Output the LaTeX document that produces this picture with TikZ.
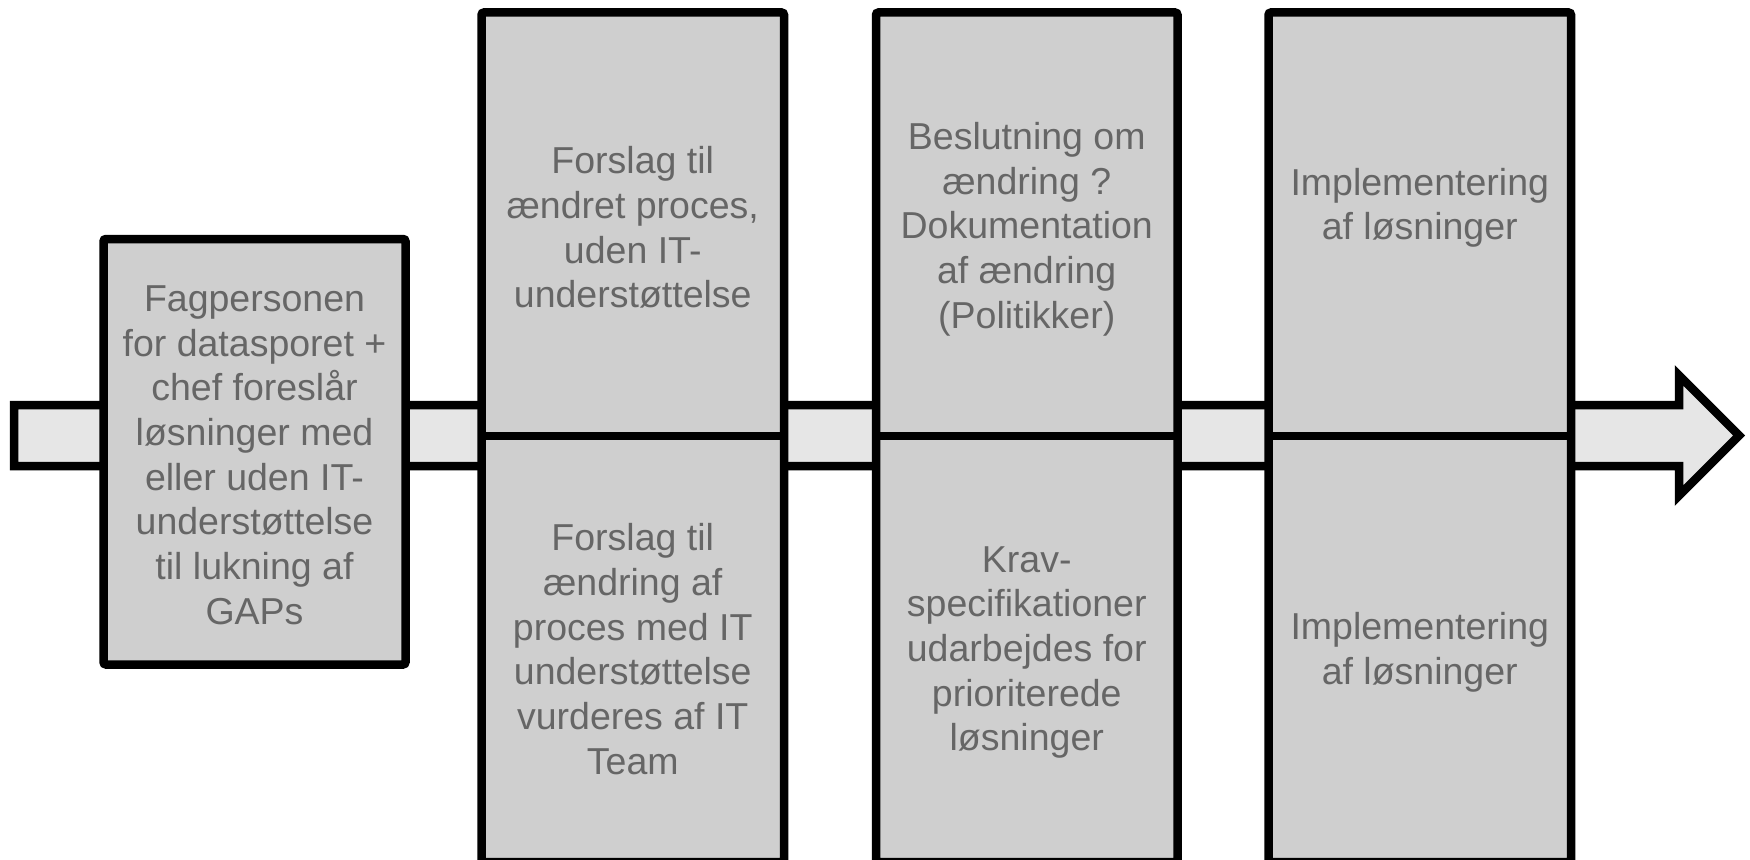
\documentclass[tikz,border=0pt]{standalone}
\usepackage{fontspec}
\setmainfont{Liberation Sans}
\definecolor{boxfill}{RGB}{207,207,207}
\definecolor{arrowfill}{RGB}{230,230,230}
\definecolor{txtgray}{RGB}{102,102,102}
\tikzset{
  cell/.style={draw=black, fill=boxfill, line width=8.5pt, rounded corners=2.5pt},
  divider/.style={draw=black, line width=8pt},
  flow/.style={draw=black, fill=arrowfill, line width=8.5pt, line join=miter, miter limit=20},
  txtbox/.style={text=txtgray, align=center, inner sep=0pt, font=\fontsize{37.5}{44.7}\selectfont}
}
\begin{document}
\begin{tikzpicture}[x=1pt,y=-1pt]
\useasboundingbox (0,0) rectangle (1750,859);
\fill[white] (0,0) rectangle (1750,859);
% big arrow
\draw[flow] (14,405) -- (1679,405) -- (1679,375.5) -- (1739,435.5) -- (1679,495.5) -- (1679,466) -- (14,466) -- cycle;
% first box
\draw[cell] (103.5,239) rectangle (405.5,664.5);
\node[txtbox] (t1) at (254.5,459) {\strut Fagpersonen\\\strut for datasporet +\\\strut chef foreslår\\\strut løsninger med\\\strut eller uden IT-\\\strut understøttelse\\\strut til lukning af\\\strut GAPs};
% column 2
\draw[cell] (481.5,12.5) rectangle (784,862);
\draw[divider] (481.5,435.5) -- (784,435.5);
\node[txtbox] (t2a) at (632.75,232) {\strut Forslag til\\\strut ændret proces,\\\strut uden IT-\\\strut understøttelse};
\node[txtbox] (t2b) at (632.75,653.5) {\strut Forslag til\\\strut ændring af\\\strut proces med IT\\\strut understøttelse\\\strut vurderes af IT\\\strut Team};
% column 3
\draw[cell] (876,12.5) rectangle (1177.5,862);
\draw[divider] (876,435.5) -- (1177.5,435.5);
\node[txtbox] (t3a) at (1026.75,230) {\strut Beslutning om\\\strut ændring ?\\\strut Dokumentation\\\strut af ændring\\\strut (Politikker)};
\node[txtbox] (t3b) at (1026.75,652.5) {\strut Krav-\\\strut specifikationer\\\strut udarbejdes for\\\strut prioriterede\\\strut løsninger};
% column 4
\draw[cell] (1268.5,12.5) rectangle (1571,862);
\draw[divider] (1268.5,435.5) -- (1571,435.5);
\node[txtbox] (t4a) at (1419.75,208.5) {\strut Implementering\\\strut af løsninger};
\node[txtbox] (t4b) at (1419.75,653) {\strut Implementering\\\strut af løsninger};
\end{tikzpicture}
\end{document}
